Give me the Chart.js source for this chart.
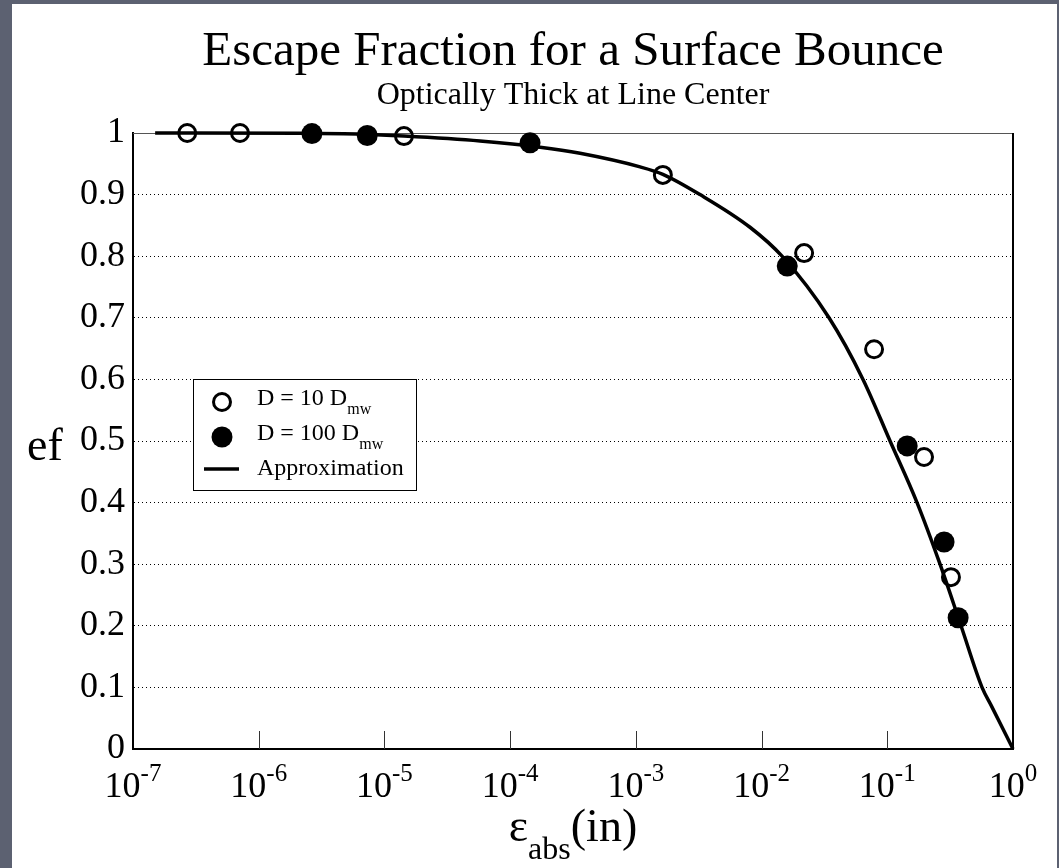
<!DOCTYPE html>
<html>
<head>
<meta charset="utf-8">
<title>Escape Fraction for a Surface Bounce</title>
<script src="https://cdn.jsdelivr.net/npm/chart.js@4.4.1/dist/chart.umd.min.js"></script>
<style>
  html, body { margin: 0; padding: 0; }
  body { width: 1059px; height: 868px; background: #5c6171; overflow: hidden; position: relative; }
  #panel { position: absolute; left: 12px; top: 4px; width: 1045px; height: 864px; background: #fff; }
  #chart { position: absolute; left: 0; top: 0; }
</style>
</head>
<body>
<div id="panel"></div>
<canvas id="chart" width="1059" height="868"></canvas>
<script>
const FONT = "'Liberation Serif', 'Times New Roman', serif";

// eps_abs (in) vs escape fraction, D = 10 D_mw
const eps10 = [2.7e-7, 7.1e-7, 1.43e-5, 1.64e-3, 0.0218, 0.0785, 0.196, 0.321];
const ef10 = [1.0, 1.0, 0.995, 0.932, 0.805, 0.649, 0.474, 0.279];

// D = 100 D_mw
const eps100 = [2.65e-6, 7.3e-6, 1.44e-4, 0.016, 0.144, 0.283, 0.366];
const ef100 = [0.999, 0.996, 0.984, 0.784, 0.492, 0.336, 0.213];

// approximation curve
const epsApprox = [1.5e-7, 2.13e-6, 6.76e-6, 1.43e-5, 5.76e-5, 1.73e-4, 3.6e-4, 1.08e-3, 1.64e-3,
  3.24e-3, 8.09e-3, 0.01455, 0.0344, 0.0641, 0.1052, 0.1724, 0.2628, 0.386, 0.567, 0.681, 1];
const efApprox = [1.0, 0.9995, 0.998, 0.995, 0.987, 0.977, 0.967, 0.945, 0.933,
  0.9, 0.847, 0.8, 0.7, 0.6, 0.5, 0.4, 0.3, 0.2, 0.1, 0.068, 0];

const xTicks = [1e-7, 1e-6, 1e-5, 1e-4, 1e-3, 1e-2, 1e-1, 1];
const xTickExps = ['-7', '-6', '-5', '-4', '-3', '-2', '-1', '0'];
const seriesLabels = ['D = 10 D_mw', 'D = 100 D_mw', 'Approximation'];

const toPoints = (xs, ys) => xs.map((x, i) => ({ x: x, y: ys[i] }));

// draws text runs side by side, each with its own size and vertical shift
function drawParts(ctx, parts, x, y, align) {
  let w = 0;
  parts.forEach(p => {
    ctx.font = p.size + 'px ' + FONT;
    p.w = ctx.measureText(p.text).width;
    w += p.w;
  });
  let cx = align === 'center' ? x - w / 2 : x;
  ctx.textAlign = 'left';
  ctx.textBaseline = 'alphabetic';
  parts.forEach(p => {
    ctx.font = p.size + 'px ' + FONT;
    ctx.fillText(p.text, cx, y + (p.dy || 0));
    cx += p.w;
  });
}

function line(ctx, x1, y1, x2, y2) {
  ctx.beginPath();
  ctx.moveTo(x1, y1);
  ctx.lineTo(x2, y2);
  ctx.stroke();
}

const frame = {
  id: 'frame',
  beforeDatasetsDraw(chart) {
    const { ctx, chartArea: a, scales: { x } } = chart;
    ctx.save();
    ctx.strokeStyle = '#555';
    ctx.lineWidth = 1;
    line(ctx, a.left, a.top + 0.5, a.right, a.top + 0.5);
    ctx.strokeStyle = '#000';
    ctx.lineWidth = 2;
    line(ctx, a.right, a.top, a.right, a.bottom);
    // decade ticks pointing into the plot
    ctx.lineWidth = 1;
    ctx.strokeStyle = '#333';
    xTicks.slice(1, -1).forEach(v => {
      const px = Math.round(x.getPixelForValue(v)) + 0.5;
      line(ctx, px, a.bottom, px, a.bottom - 18);
    });
    ctx.restore();
  },
  afterDraw(chart) {
    const { ctx, chartArea: a, scales: { x } } = chart;
    ctx.save();
    ctx.fillStyle = '#000';

    // x tick labels as powers of ten
    xTicks.forEach((v, i) => {
      drawParts(ctx, [
        { text: '10', size: 36 },
        { text: xTickExps[i], size: 25, dy: -16 }
      ], x.getPixelForValue(v), 797, 'center');
    });

    // axis titles
    drawParts(ctx, [
      { text: 'ε', size: 46 },
      { text: 'abs', size: 32, dy: 18 },
      { text: '(in)', size: 46 }
    ], (a.left + a.right) / 2, 841, 'center');
    drawParts(ctx, [{ text: 'ef', size: 46 }], 27, 460, 'left');

    // legend
    const bx = a.left + 60, by = a.top + 246;
    ctx.fillStyle = '#fff';
    ctx.fillRect(bx, by, 223, 111);
    ctx.strokeStyle = '#000';
    ctx.lineWidth = 1;
    ctx.strokeRect(bx + 0.5, by + 0.5, 223, 111);
    const symY = [23, 58, 90];
    const textY = [26, 61, 96];
    chart.data.datasets.forEach((ds, i) => {
      const cx = bx + 29, cy = by + symY[i];
      if (ds.showLine) {
        ctx.strokeStyle = ds.borderColor;
        ctx.lineWidth = ds.borderWidth;
        line(ctx, cx - 18, cy, cx + 17, cy);
      } else {
        ctx.beginPath();
        ctx.arc(cx, cy, ds.pointRadius, 0, Math.PI * 2);
        ctx.fillStyle = ds.backgroundColor;
        ctx.fill();
        if (ds.pointBorderWidth) {
          ctx.lineWidth = ds.pointBorderWidth;
          ctx.strokeStyle = ds.borderColor;
          ctx.stroke();
        }
      }
      const bits = ds.label.split('_');
      const parts = [{ text: bits[0], size: 24 }];
      if (bits[1]) parts.push({ text: bits[1], size: 16, dy: 9 });
      ctx.fillStyle = '#000';
      drawParts(ctx, parts, bx + 64, by + textY[i], 'left');
    });
    ctx.restore();
  }
};

new Chart(document.getElementById('chart'), {
  type: 'scatter',
  data: {
    datasets: [
      {
        label: seriesLabels[0],
        data: toPoints(eps10, ef10),
        pointRadius: 8.5,
        pointBorderWidth: 3,
        borderColor: '#000',
        backgroundColor: 'rgba(0,0,0,0)',
        showLine: false,
        clip: false,
        order: 1
      },
      {
        label: seriesLabels[1],
        data: toPoints(eps100, ef100),
        pointRadius: 10.5,
        pointBorderWidth: 0,
        borderColor: '#000',
        backgroundColor: '#000',
        showLine: false,
        clip: false,
        order: 1
      },
      {
        label: seriesLabels[2],
        data: toPoints(epsApprox, efApprox),
        showLine: true,
        pointRadius: 0,
        borderColor: '#000',
        borderWidth: 3.5,
        cubicInterpolationMode: 'monotone',
        clip: false,
        order: 2
      }
    ]
  },
  options: {
    responsive: false,
    animation: false,
    devicePixelRatio: 1,
    layout: { padding: { left: 0, right: 46, top: 0, bottom: 0 } },
    plugins: {
      legend: { display: false },
      tooltip: { enabled: false },
      title: {
        display: true,
        text: 'Escape Fraction for a Surface Bounce',
        fullSize: false,
        color: '#000',
        font: { family: FONT, size: 49, weight: 'normal', lineHeight: 1 },
        padding: { top: 28, bottom: 0 }
      },
      subtitle: {
        display: true,
        text: 'Optically Thick at Line Center',
        fullSize: false,
        color: '#000',
        font: { family: FONT, size: 32, weight: 'normal', lineHeight: 1 },
        padding: { top: 2.5, bottom: 21.5 }
      }
    },
    scales: {
      x: {
        type: 'logarithmic',
        position: 'bottom',
        min: 1e-7,
        max: 1,
        afterBuildTicks: s => { s.ticks = xTicks.map(v => ({ value: v })); },
        afterFit: s => { s.height = 119; },
        ticks: { display: false },
        grid: { display: false },
        border: { display: true, color: '#000', width: 2 }
      },
      y: {
        type: 'linear',
        min: 0,
        max: 1,
        afterFit: s => { s.width = 133; },
        ticks: {
          stepSize: 0.1,
          color: '#000',
          padding: 8,
          font: { family: FONT, size: 36 },
          callback: v => String(Math.round(v * 10) / 10)
        },
        grid: { color: '#000', lineWidth: 1, drawTicks: false },
        border: { display: true, color: '#000', width: 2, dash: [1, 3] }
      }
    }
  },
  plugins: [frame]
});
</script>
</body>
</html>
